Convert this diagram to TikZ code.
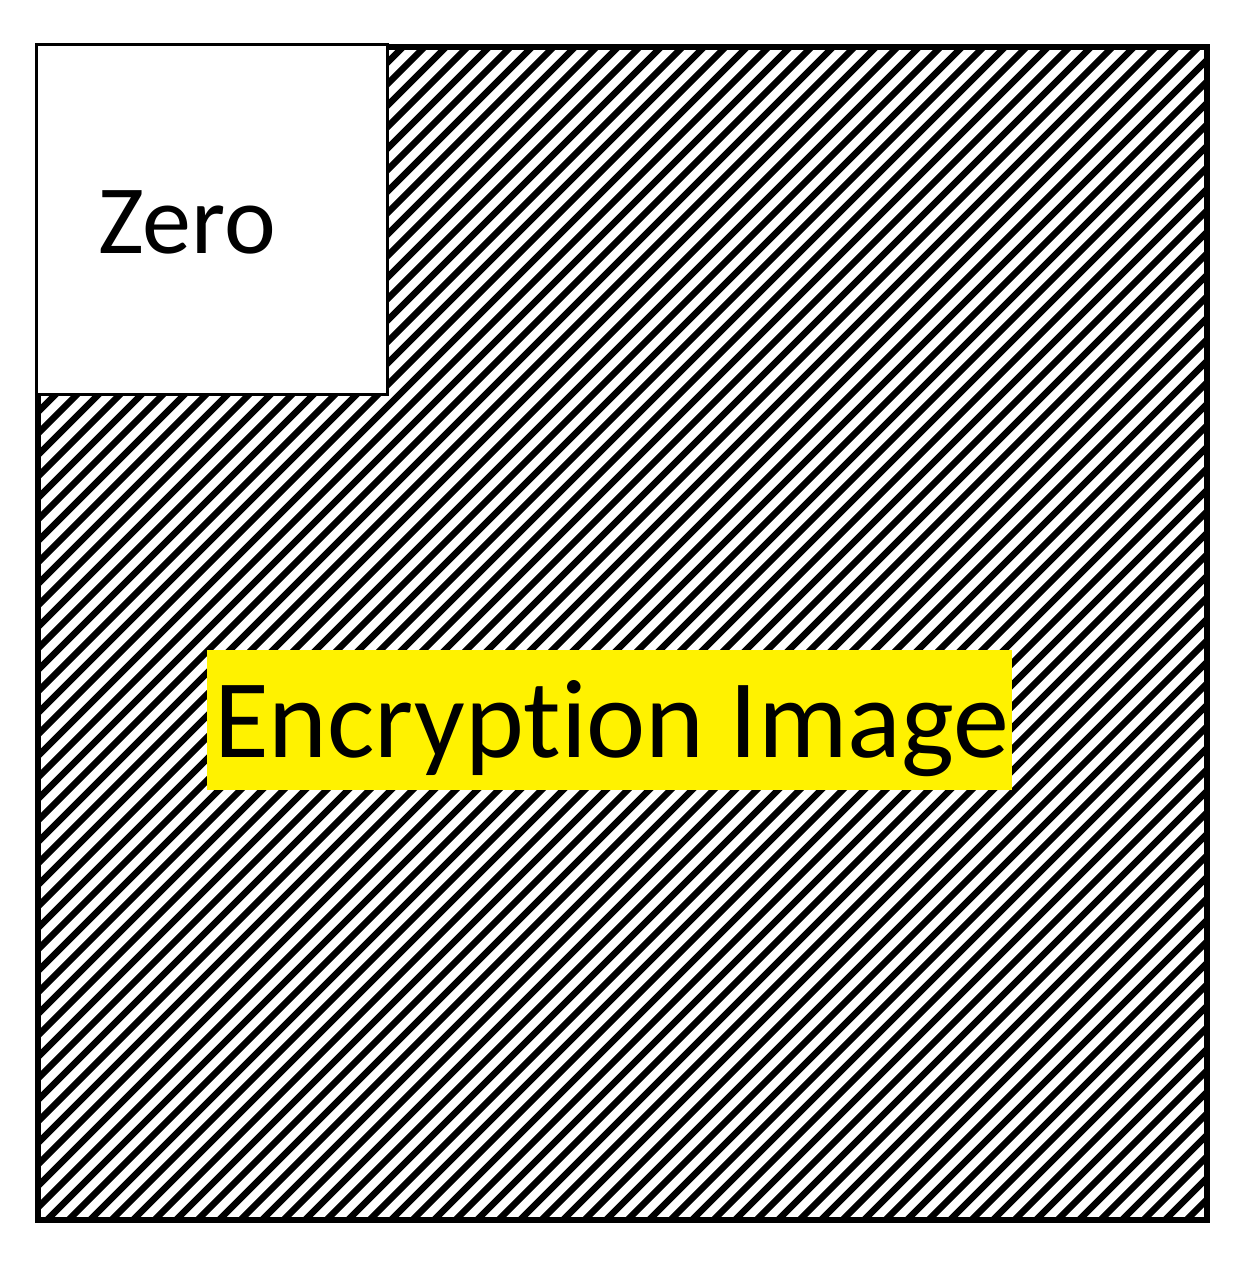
\documentclass[tikz,border=0pt]{standalone}
\usepackage{fontspec}
\setmainfont[Ligatures=NoCommon]{Carlito}
\usepackage{tikz}
\usetikzlibrary{calc}

\begin{document}
\begin{tikzpicture}[x=1pt,y=-1pt,
    hatch/.style={line width=6.5pt},
    zerobox/.style={draw,fill=white,line width=3pt,inner sep=0pt,
      minimum width=350.5pt,minimum height=350pt},
    keybox/.style={fill=yellow,inner sep=0pt,
      minimum width=805pt,minimum height=140pt}]
    \useasboundingbox (0,0) rectangle (1248,1270);% page size

    \begin{scope}
      \clip (37.5,46.5) rectangle (1207,1220);% hatch only inside the image
      \foreach \i in {-56,...,56}{% one diagonal stroke each
        \draw [hatch] (47+\i*21.5,1220) -- ++(1200,-1200);
      }
    \end{scope}
    \draw [line width=6pt] (37.5,46.5) rectangle (1207,1220);% outer frame

    \node[zerobox] (zero) at (211.75,219) {};
    \node[anchor=base,font=\fontsize{98}{115}\selectfont] (zerotxt) at (187,253) {Zero};

    \node[keybox] (enc) at (609.5,720) {};
    \node[anchor=base,font=\fontsize{112}{130}\selectfont] (enctxt) at (611.5,757) {Encryption Image};
\end{tikzpicture}
\end{document}
